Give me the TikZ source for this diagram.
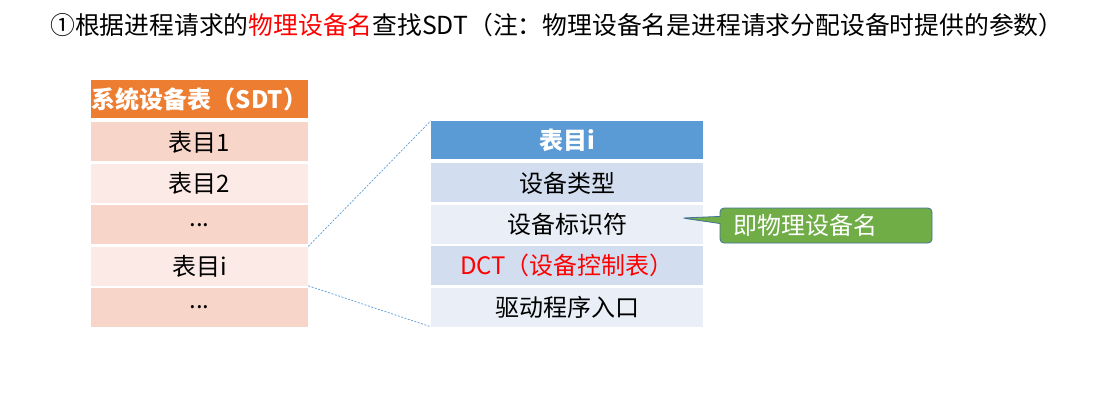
\documentclass[tikz,border=0pt]{standalone}
\usepackage{fontspec}
\setmainfont{Noto Sans CJK SC}
\usetikzlibrary{positioning,shapes.callouts}

\definecolor{sdthead}{HTML}{ED7D31}
\definecolor{sdtdark}{HTML}{F8D5C9}
\definecolor{sdtlight}{HTML}{FBEAE5}
\definecolor{itemhead}{HTML}{5B9BD5}
\definecolor{itemdark}{HTML}{D2DEEF}
\definecolor{itemlight}{HTML}{EAEFF7}
\definecolor{notegreen}{HTML}{70AD47}
\definecolor{noteedge}{HTML}{41719C}

\tikzset{
  cell/.style={minimum height=39pt, inner sep=0pt, text=black, font=\fontsize{24}{28}\selectfont},
  sdtcell/.style={cell, minimum width=217pt},
  itemcell/.style={cell, minimum width=272pt},
  headcell/.style={minimum height=38pt, inner sep=0pt, text=white, font=\fontsize{24}{28}\selectfont\bfseries},
  zoomline/.style={itemhead, line width=0.7pt, dash pattern=on 2pt off 1.5pt}
}

\begin{document}
\begin{tikzpicture}[x=1pt, y=-1pt]
\useasboundingbox (0,0) rectangle (1115,407);

\node[anchor=west, inner sep=0pt, font=\fontsize{24.8}{28}\selectfont] (title) at (50,25)
  {①根据进程请求的\textcolor{red}{物理设备名}查找SDT（注：物理设备名是进程请求分配设备时提供的参数）};

% system device table
\node[headcell, fill=sdthead, minimum width=217pt] (sdt) at (199.5,99) {系统设备表（SDT）};
\node[sdtcell, fill=sdtdark, below=4pt of sdt] (e1) {表目1};
\node[sdtcell, fill=sdtlight, below=2pt of e1] (e2) {表目2};
\node[sdtcell, fill=sdtdark, below=2pt of e2] (e3) {...};
\node[sdtcell, fill=sdtlight, below=2pt of e3] (ei) {表目i};
\node[sdtcell, fill=sdtdark, below=2pt of ei] (e5) {...};

% entry i
\node[headcell, fill=itemhead, minimum width=272pt] (item) at (567,140) {表目i};
\node[itemcell, fill=itemdark, below=4pt of item] (type) {设备类型};
\node[itemcell, fill=itemlight, below=2pt of type] (ident) {设备标识符};
\node[itemcell, fill=itemdark, below=2pt of ident, text=red] (dct) {DCT（设备控制表）};
\node[itemcell, fill=itemlight, below=2pt of dct] (drv) {驱动程序入口};

\draw[zoomline] (ei.north east) -- (item.north west);
\draw[zoomline] (ei.south east) -- (drv.south west);

\node[rectangle callout, callout absolute pointer={(682,218)}, fill=notegreen, draw=noteedge,
  line width=0.8pt, rounded corners=4pt, minimum height=35pt, text width=186pt, inner xsep=13pt,
  inner ysep=0pt, align=left, text=white, font=\fontsize{24}{28}\selectfont] (alias) at (826,225.5) {即物理设备名};
\end{tikzpicture}
\end{document}
